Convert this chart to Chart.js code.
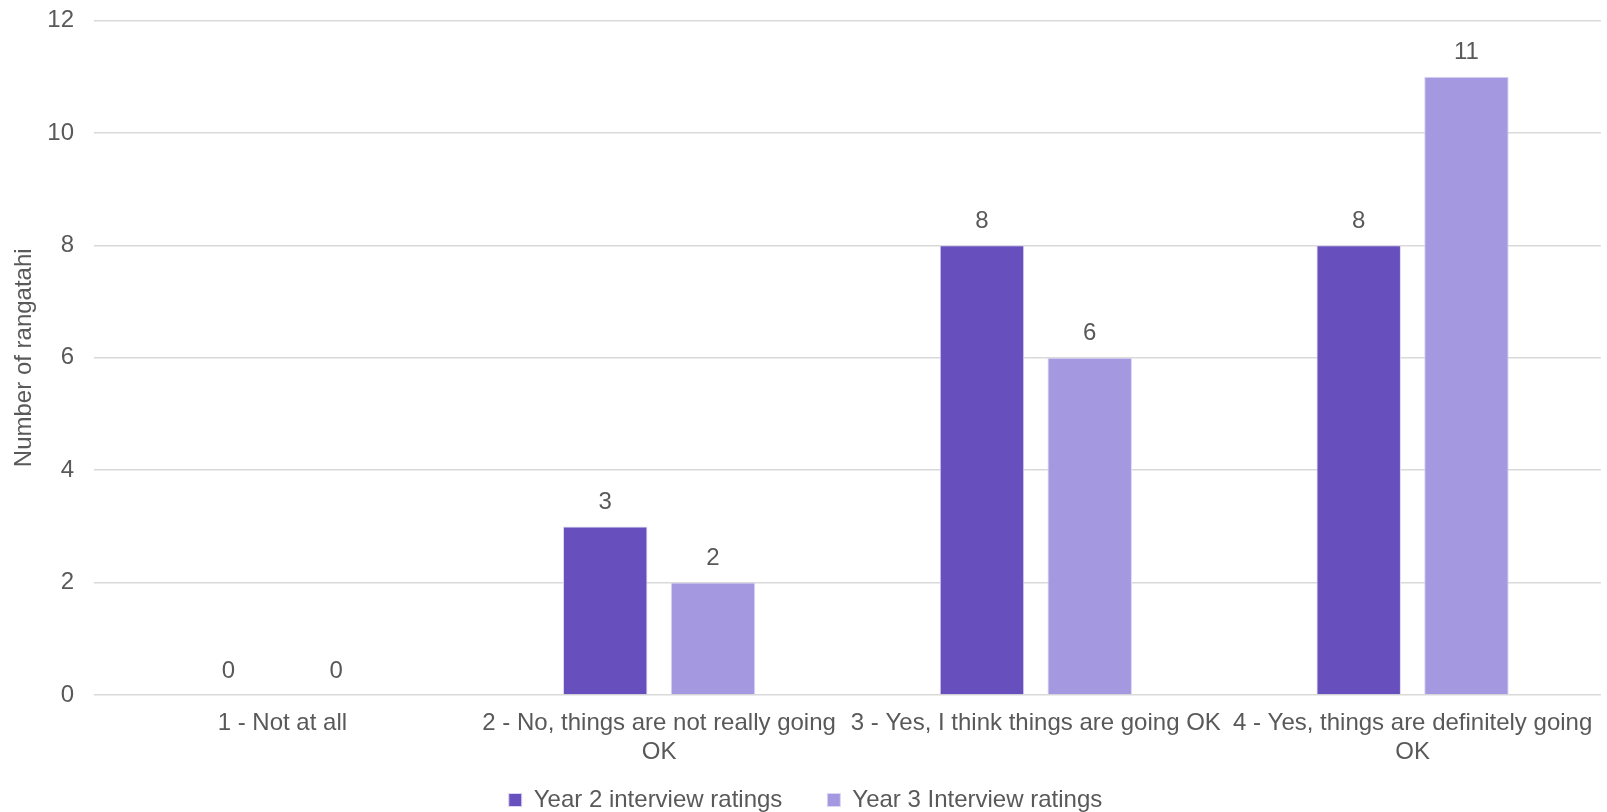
<!DOCTYPE html>
<html>
<head>
<meta charset="utf-8">
<script src="https://cdn.jsdelivr.net/npm/chart.js@4"></script>
<style>
  html, body { margin: 0; padding: 0; background: #fff; }
  #wrap { width: 1607px; height: 812px; }
</style>
</head>
<body>
<div id="wrap"><canvas id="ratingsChart"></canvas></div>
<script>
// chart values
const categories = [
    "1 - Not at all",
    ["2 - No, things are not really going", "OK"],
    "3 - Yes, I think things are going OK",
    ["4 - Yes, things are definitely going", "OK"]
]
const year2Ratings = [0, 3, 8, 8]
const year3Ratings = [0, 2, 6, 11]
const yTicks = [0, 2, 4, 6, 8, 10, 12]

const textColor = "#595959"
const fontFamily = "'Liberation Sans', Arial, sans-serif"
const fontSize = 24

// draws the number above every bar
const barValues = {
    id: "barValues",
    afterDatasetsDraw(chart) {
        const ctx = chart.ctx
        ctx.save()
        ctx.fillStyle = textColor
        ctx.font = fontSize + "px " + fontFamily
        ctx.textAlign = "center"
        ctx.textBaseline = "middle"
        chart.data.datasets.forEach((ds, i) => {
            chart.getDatasetMeta(i).data.forEach((bar, j) => {
                ctx.fillText(String(ds.data[j]), bar.x, bar.y - 24)
            })
        })
        ctx.restore()
    }
}

// the x labels are allowed to run into the (empty) top of the legend box
const looseXLabels = {
    id: "looseXLabels",
    afterLayout(chart) {
        chart.scales.x.bottom = chart.height
    }
}

const ctx = document.querySelector("#ratingsChart")

new Chart(ctx, {
    type: "bar",
    data: {
        labels: categories,
        datasets: [
            {
                label: "Year 2 interview ratings",
                data: year2Ratings,
                backgroundColor: "#6750BD",
                borderColor: "#DCD6F2",
                borderWidth: 1,
                categoryPercentage: 0.572,
                barPercentage: 0.784
            },
            {
                label: "Year 3 Interview ratings",
                data: year3Ratings,
                backgroundColor: "#A499E1",
                borderColor: "#DCD6F2",
                borderWidth: 1,
                categoryPercentage: 0.572,
                barPercentage: 0.784
            }
        ]
    },
    options: {
        responsive: true,
        maintainAspectRatio: false,
        animation: false,
        layout: { padding: { top: 0, right: 6, left: 10, bottom: -10 } },
        plugins: {
            legend: {
                position: "bottom",
                labels: {
                    color: textColor,
                    font: { family: fontFamily, size: fontSize },
                    boxWidth: 13,
                    boxHeight: 13,
                    padding: 45
                }
            },
            tooltip: { enabled: false }
        },
        scales: {
            x: {
                grid: { display: false, drawTicks: false },
                border: { display: false },
                ticks: {
                    color: textColor,
                    font: { family: fontFamily, size: fontSize },
                    autoSkip: false,
                    maxRotation: 0,
                    padding: 14
                },
                afterFit: scale => { scale.height = 48 }
            },
            y: {
                min: 0,
                max: 12,
                afterBuildTicks: axis => { axis.ticks = yTicks.map(v => ({ value: v })) },
                grid: { color: "#D9D9D9", lineWidth: 1.5, drawTicks: false },
                border: { display: false },
                ticks: {
                    color: textColor,
                    font: { family: fontFamily, size: fontSize },
                    padding: 20
                },
                title: {
                    display: true,
                    text: "Number of rangatahi",
                    color: textColor,
                    font: { family: fontFamily, size: fontSize },
                    padding: { top: 0, bottom: 10 }
                },
                afterFit: scale => {
                    scale.width = 84
                    scale.paddingTop = 20.5
                }
            }
        }
    },
    plugins: [barValues, looseXLabels]
})
</script>
</body>
</html>
